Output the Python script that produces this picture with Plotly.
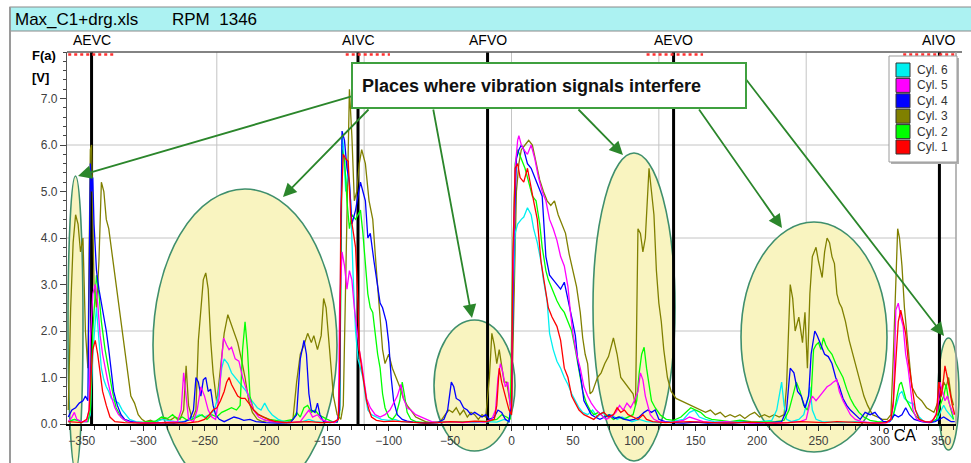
import plotly.graph_objects as go

# ---------------- data ----------------
cyl3_deg = [-361,-359,-357,-355,-353,-351,-349,-347,-345,-343,-342,-340,-338,-336,-334,-332,-330,-328,-325,-322,-319,-316,-313,-310,-307,-304,-301,-298,-294,-290,-286,-282,-278,-274,-270,-267,-265,-263,-260,-257,-255,-253,-251,-249,-247,-245,-243,-240,-238,-234,-231,-229,-226,-223,-220,-217,-214,-211,-207,-203,-198,-193,-188,-183,-178,-175,-172,-169,-166,-163,-161,-158,-155,-153,-151,-149,-147,-145,-142,-139,-137,-135,-133,-132,-130,-128,-126,-124,-122,-119,-116,-113,-110,-107,-105,-103,-100,-97,-94,-91,-88,-85,-82,-78,-74,-70,-66,-62,-58,-54,-51,-48,-45,-42,-39,-36,-33,-30,-27,-24,-21,-18,-16,-14,-12,-10,-8,-6,-4,-2,0,2,4,6,8,11,14,17,20,23,26,29,32,35,38,41,44,47,50,53,56,58,60,62,64,66,70,73,76,79,83,86,89,92,96,99,101,103,105,107,109,111,112,114,116,118,120,122,124,127,130,134,138,142,146,150,154,158,162,166,170,174,178,182,186,190,194,198,202,206,210,214,218,222,224,226,227,229,231,234,237,239,241,243,245,248,250,253,255,257,259,261,263,265,267,269,272,275,278,281,284,287,290,294,298,302,306,309,311,313,314.5,316,318,320,323,326,330,334,338,341,344,347,350,352,354,356,358,360]
cyl3_val = [0.3,2.5,3.9,4.5,4.3,3.7,4.0,2.0,1.2,5.9,6.0,3.0,2.5,3.5,5.2,5.0,4.4,4.2,3.6,3.0,2.3,1.7,1.1,0.6,0.45,0.2,0.1,0.05,0.08,0.03,0.1,0.12,0.08,0.15,0.1,0.3,1.25,0.4,0.1,0.3,1.8,2.5,3.1,3.25,2.9,1.8,1.1,0.45,0.95,1.95,2.35,2.2,2.0,1.75,1.4,1.0,0.5,0.25,0.1,0.05,0.08,0.04,0.06,0.03,0.1,0.9,1.5,1.7,1.95,1.75,1.9,1.6,1.9,2.7,2.5,1.8,1.2,0.6,0.2,0.1,0.4,3.2,6.5,7.2,6.2,4.8,5.0,5.6,5.9,5.6,4.8,4.4,3.3,2.2,1.6,1.3,1.5,1.2,1.0,0.8,0.55,0.4,0.3,0.15,0.1,0.05,0.03,0.04,0.05,0.2,0.3,0.25,0.35,0.2,0.3,0.15,0.25,0.2,0.1,0.2,0.15,1.0,1.95,1.7,1.3,1.6,1.2,0.9,0.9,0.6,0.2,2.5,5.0,5.6,5.9,6.0,6.1,6.0,5.6,5.25,5.0,4.8,4.7,4.8,4.5,4.3,4.1,3.65,3.3,2.95,2.4,1.85,1.5,1.3,0.65,0.7,1.0,1.1,1.3,1.45,1.85,1.5,1.0,0.9,0.75,0.65,0.4,4.2,4.1,3.7,4.0,5.0,5.5,5.0,4.5,3.3,2.6,2.2,1.6,1.0,0.7,0.55,0.5,0.45,0.4,0.35,0.3,0.25,0.3,0.2,0.25,0.15,0.2,0.15,0.2,0.12,0.2,0.25,0.15,0.2,0.15,0.2,0.15,0.2,0.8,2.2,3.0,2.7,2.0,2.3,1.75,2.4,1.2,2.8,3.6,3.8,3.5,3.15,3.7,4.0,3.9,3.6,3.45,2.8,2.6,2.5,2.2,1.8,1.5,1.2,0.9,0.6,0.4,0.2,0.15,0.1,0.1,0.2,1.5,3.2,4.2,4.0,3.4,2.5,1.6,0.8,0.6,0.5,0.35,0.3,0.25,0.45,0.6,0.9,0.8,1.0,0.6,0.4]

cyl4_deg = [-361,-358,-355,-352,-349,-347,-345,-344,-343,-342,-341,-340,-338,-336,-334,-332,-330,-328,-326,-324,-321,-318,-315,-311,-305,-295,-285,-275,-266,-262,-259,-257,-255,-253,-251,-249,-247,-245,-243,-241,-238,-234,-230,-226,-222,-218,-213,-208,-200,-190,-180,-175,-172,-169,-167,-165,-163,-160,-158,-156,-153,-148,-142,-140,-139,-138,-136,-134,-132,-130,-127,-125,-123,-121,-119,-117,-115,-112,-109,-107,-105,-102,-100,-98,-96,-93,-89,-85,-80,-70,-60,-55,-52,-49,-47,-45,-42,-39,-36,-33,-30,-27,-24,-21,-18,-14,-11,-8,-5,-2,0,2,4,6,8,10,13,16,19,22,25,28,31,34,37,40,43,46,49,52,54,57,59,62,65,68,72,76,80,84,88,92,96,100,104,108,111,114,117,120,125,130,140,150,160,170,180,190,200,210,220,224,227,230,233,236,239,242,244,247,249,252,255,258,261,264,267,270,273,276,280,284,288,292,296,299,303,308,312,315,318,321,324,328,334,340,345,349,352,355,358,361]
cyl4_val = [0.15,0.3,0.35,0.45,0.5,0.6,0.5,2.5,5.6,5.0,5.3,4.3,3.3,2.9,2.6,2.3,2.0,1.6,1.1,0.7,0.4,0.2,0.1,0.06,0.03,0.02,0.03,0.02,0.05,0.1,0.3,1.0,0.9,0.6,0.95,1.0,0.7,0.75,0.4,0.2,0.1,0.05,0.1,0.15,0.12,0.08,0.1,0.05,0.03,0.02,0.03,0.2,1.4,1.8,1.5,0.65,0.3,0.25,0.45,0.2,0.05,0.03,0.05,0.3,4.0,6.3,6.1,5.5,5.2,4.3,4.6,4.9,5.2,5.0,4.8,4.0,4.1,3.5,3.0,2.6,2.5,2.2,1.75,1.0,0.5,0.2,0.1,0.06,0.04,0.02,0.03,0.1,0.3,0.9,0.8,0.55,0.5,0.35,0.3,0.2,0.25,0.2,0.15,0.2,0.1,0.15,0.3,0.25,0.1,0.05,0.5,4.0,5.7,5.9,6.0,5.9,5.6,5.5,5.3,5.1,4.9,3.6,3.2,3.1,3.0,2.9,3.05,2.7,2.3,1.9,1.35,0.9,0.5,0.35,0.2,0.15,0.1,0.15,0.2,0.12,0.15,0.1,0.08,0.1,0.15,0.25,0.3,0.25,0.3,0.1,0.05,0.03,0.02,0.04,0.02,0.03,0.02,0.04,0.02,0.03,0.05,0.3,1.2,1.1,0.7,0.6,0.35,0.6,1.5,2.0,1.9,1.7,1.5,1.45,1.3,1.0,0.8,0.55,0.4,0.3,0.2,0.1,0.25,0.2,0.25,0.15,0.05,0.05,0.2,0.15,0.2,0.35,0.2,0.1,0.05,0.03,0.05,0.1,0.15,0.1,0.05,0.05]

cyl5_deg = [-361,-358,-356,-354,-350,-346,-344,-343,-341,-339,-337,-335,-333,-331,-329,-326,-323,-320,-316,-311,-300,-290,-280,-272,-269,-267,-265,-263,-259,-256,-253,-250,-247,-244,-241,-238,-236,-234.5,-232,-230,-228,-225,-222,-219,-216,-213,-210,-206,-202,-196,-188,-180,-172,-168,-165,-162,-158,-155,-150,-144,-141,-140,-138,-136,-134,-132,-130,-128,-126,-124,-122,-120,-118,-115,-111,-107,-103,-99,-96,-93,-90,-88,-85,-82,-78,-74,-70,-65,-58,-50,-40,-30,-22,-16,-13,-11,-9,-7,-5,-3,-1,0,1,3,5,6,8,10,13,16,19,22,25,28,31,34,37,40,43,46,48,50,53,56,59,62,65,69,73,77,81,85,88,91,94,97,100,103,105,107,109,111,113,116,120,130,140,145,150,156,165,175,185,195,205,215,225,235,240,243,245,248,251,254,257,260,262,265,267,270,273,276,280,285,292,300,306,309,311,313,315,317,319,321,323,325,327,330,335,340,344,347,349,351,353,355,357,360]
cyl5_val = [0.05,0.15,0.25,0.1,0.05,0.05,0.3,1.8,2.8,3.0,2.6,1.9,1.5,1.2,0.95,0.6,0.35,0.2,0.1,0.04,0.03,0.02,0.04,0.05,0.3,1.1,0.6,0.1,0.05,0.3,0.8,0.6,0.3,0.15,0.1,0.6,1.4,1.85,1.7,1.6,1.65,1.4,1.35,1.0,0.75,0.5,0.3,0.15,0.1,0.05,0.04,0.03,0.05,0.2,0.3,0.15,0.2,0.1,0.05,0.03,0.1,2.5,3.7,3.4,2.9,3.3,3.1,2.5,2.0,1.6,1.3,0.9,0.55,0.35,0.2,0.15,0.2,0.3,0.45,0.6,0.85,0.55,0.35,0.3,0.2,0.15,0.1,0.05,0.03,0.05,0.03,0.05,0.04,0.1,0.3,1.0,1.3,1.1,0.8,0.9,0.4,0.3,3.0,5.5,6.1,6.2,6.0,5.9,5.8,6.0,5.7,5.3,5.0,4.8,4.4,4.2,3.95,3.6,3.4,2.95,2.4,1.95,1.5,1.2,0.8,0.6,0.45,0.3,0.2,0.1,0.15,0.25,0.4,0.3,0.45,0.35,0.5,0.7,1.1,0.95,0.6,0.4,0.2,0.1,0.05,0.03,0.08,0.15,0.1,0.05,0.03,0.05,0.03,0.02,0.03,0.02,0.03,0.05,0.1,0.45,0.6,0.5,0.6,0.7,0.8,0.85,0.9,0.95,0.7,0.5,0.35,0.2,0.1,0.05,0.03,0.02,0.03,0.1,0.4,2.45,2.6,2.3,2.1,1.5,1.2,0.7,0.3,0.1,0.05,0.04,0.1,0.3,0.9,0.7,0.5,0.6,0.4,0.2]

cyl2_deg = [-361,-356,-350,-345,-343,-341,-339,-338,-336,-334,-331,-328,-325,-322,-318,-314,-308,-300,-290,-285,-280,-276,-272,-268,-264,-260,-256,-252,-248,-244,-240,-236,-232,-228,-224,-221,-219,-217,-215,-213,-210,-206,-202,-197,-192,-187,-182,-178,-175,-172,-169,-166,-163,-160,-157,-154,-150,-146,-142,-140,-139,-138,-136,-134,-132,-130,-127,-125,-123,-121,-119,-117,-115,-113,-111,-109,-107,-105,-103,-100,-97,-94,-91,-89,-87,-85,-82,-78,-70,-60,-50,-40,-30,-20,-12,-8,-4,-1,1,3,5,8,11,14,17,20,23,25,28,30,33,37,40,43,46,49,52,55,58,61,64,67,71,75,79,83,87,91,95,99,102,104,106,108,110,112,114,117,121,126,132,138,142,146,150,154,158,163,170,178,186,195,205,215,222,226,229,232,235,238,241,244,246,248,250,252,254,256,258,261,264,267,270,273,276,279,283,287,292,298,305,310,312,314,316,317.5,319,321,323,326,330,335,341,346,349,352,354,356,358,360]
cyl2_val = [0.05,0.1,0.05,0.05,0.3,2.0,2.8,3.2,2.8,2.2,1.6,1.1,0.7,0.35,0.15,0.06,0.03,0.04,0.06,0.15,0.12,0.2,0.1,0.15,0.08,0.1,0.15,0.2,0.1,0.2,0.15,0.25,0.3,0.35,0.3,0.4,1.6,2.2,1.6,0.6,0.3,0.2,0.15,0.1,0.08,0.05,0.08,0.1,0.25,0.15,0.35,0.4,0.25,0.3,0.2,0.15,0.1,0.05,0.04,0.2,3.5,5.9,5.7,4.8,4.2,4.5,4.4,4.5,4.6,4.1,3.5,2.8,2.5,2.4,1.95,1.5,1.2,0.65,0.35,0.15,0.1,0.2,0.5,0.9,0.6,0.25,0.1,0.05,0.03,0.04,0.05,0.04,0.05,0.06,0.1,0.2,0.15,0.1,3.5,5.6,5.9,5.7,5.5,5.2,4.9,4.8,4.3,3.8,3.3,3.1,2.9,2.65,2.5,2.4,2.2,2.0,1.6,1.1,0.7,0.45,0.3,0.2,0.25,0.15,0.2,0.1,0.15,0.1,0.15,0.2,0.5,1.1,1.5,1.65,1.2,0.8,0.5,0.35,0.2,0.1,0.08,0.15,0.25,0.35,0.3,0.25,0.15,0.1,0.08,0.05,0.08,0.05,0.04,0.05,0.08,0.3,0.6,0.9,0.7,0.4,0.3,0.6,1.6,1.7,1.75,1.6,1.85,1.7,1.6,1.5,1.3,1.15,1.0,0.75,0.55,0.4,0.25,0.15,0.08,0.05,0.04,0.1,0.3,0.6,0.85,0.9,0.75,0.55,0.45,0.3,0.15,0.05,0.03,0.1,0.4,0.6,0.85,0.5,0.3,0.1]

cyl6_deg = [-361,-356,-350,-345,-343,-341,-339,-338,-336,-334,-332,-330,-328,-326,-323,-320,-317,-314,-311,-306,-298,-290,-284,-280,-274,-268,-262,-258,-254,-250,-246,-242,-239,-236,-234,-231,-228,-225,-222,-219,-216,-213,-210,-207,-204,-201,-198,-195,-190,-185,-178,-170,-165,-160,-150,-142,-140,-139,-138,-137,-135,-133,-131,-129,-127,-125,-123,-121,-119,-117,-114,-110,-106,-100,-95,-90,-80,-70,-60,-50,-40,-30,-20,-12,-6,-2,0,1,3,5,8,10,13,16,18,21,24,26,29,31,34,37,40,43,46,49,52,55,58,62,66,70,74,78,82,86,90,94,98,104,110,120,130,140,145,149,153,158,165,175,185,195,205,212,216,218,220,222,224,228,234,238,241,243,245,248,253,260,270,280,290,300,308,311,314,316,318,320,322,325,327,329,332,336,342,347,350,352,354,357,360]
cyl6_val = [0.05,0.1,0.05,0.05,0.2,1.5,2.2,2.5,1.8,1.2,0.95,0.8,0.7,0.55,0.5,0.45,0.3,0.2,0.1,0.05,0.03,0.05,0.1,0.08,0.05,0.04,0.1,0.15,0.2,0.15,0.2,0.3,0.6,1.2,1.4,1.3,1.1,1.0,0.9,0.8,0.7,0.55,0.45,0.35,0.3,0.45,0.3,0.2,0.1,0.05,0.03,0.05,0.1,0.05,0.03,0.04,0.3,4.0,6.2,6.0,5.0,5.5,4.8,3.2,2.0,1.4,1.2,1.0,0.6,0.3,0.2,0.15,0.1,0.08,0.1,0.05,0.03,0.02,0.03,0.05,0.04,0.03,0.05,0.04,0.1,0.05,0.3,2.5,4.1,4.3,4.4,4.45,4.65,4.5,4.2,3.9,3.5,3.1,2.65,1.95,1.6,1.35,1.2,1.0,0.85,0.65,0.5,0.35,0.25,0.2,0.3,0.15,0.25,0.15,0.2,0.1,0.15,0.1,0.05,0.1,0.05,0.03,0.05,0.1,0.25,0.3,0.15,0.1,0.05,0.04,0.05,0.03,0.05,0.08,0.3,0.6,0.9,0.4,0.1,0.05,0.1,0.2,0.5,0.8,0.3,0.1,0.05,0.04,0.03,0.05,0.03,0.04,0.05,0.2,0.5,0.65,0.7,0.55,0.5,0.45,0.45,0.3,0.15,0.05,0.03,0.1,0.3,0.4,0.3,0.2,0.1]

cyl1_deg = [-361,-350,-346,-344,-342,-341,-339,-337,-335,-333,-330,-327,-323,-315,-300,-280,-265,-255,-250,-246,-243,-240,-237,-234,-232,-230,-228,-226,-223,-220,-217,-214,-210,-206,-202,-198,-192,-185,-175,-165,-155,-145,-141,-140,-139,-137,-135,-133,-131,-129,-127,-125,-124,-122,-120,-118,-116,-114,-110,-104,-96,-88,-80,-70,-60,-50,-40,-30,-20,-14,-12,-10,-8,-6,-4,-2,0,1,3,5,7,10,13,15,18,21,24,27,30,33,37,40,43,46,49,52,55,59,63,67,71,75,79,83,86,89,92,95,99,103,107,110,115,125,135,145,155,165,175,185,195,205,215,225,235,245,255,265,275,285,295,305,309,311,313,315,317,319,321,323,325,327,329,332,337,342,346,348,350,352,353,355,357,359,361]
cyl1_val = [0.05,0.03,0.1,0.3,1.2,1.6,1.8,1.5,1.1,0.7,0.4,0.15,0.05,0.03,0.02,0.03,0.02,0.05,0.1,0.2,0.3,0.35,0.5,0.7,0.9,1.0,0.85,0.75,0.6,0.55,0.55,0.45,0.3,0.2,0.15,0.1,0.05,0.03,0.04,0.05,0.03,0.04,0.1,1.0,4.5,5.8,5.7,5.65,4.5,4.1,3.8,2.6,1.6,1.2,0.8,0.5,0.3,0.15,0.08,0.05,0.06,0.05,0.03,0.02,0.03,0.05,0.04,0.06,0.05,0.1,0.4,1.2,0.9,0.7,0.5,0.3,0.2,3.5,5.5,5.6,5.3,5.2,5.5,5.2,4.8,4.4,3.5,3.0,2.5,2.3,2.1,1.8,1.2,1.0,0.6,0.45,0.3,0.2,0.15,0.1,0.2,0.25,0.15,0.2,0.35,0.25,0.3,0.2,0.15,0.1,0.2,0.1,0.05,0.03,0.04,0.05,0.04,0.03,0.02,0.03,0.04,0.03,0.02,0.03,0.05,0.04,0.03,0.05,0.04,0.03,0.02,0.03,0.1,0.5,1.5,2.2,2.45,2.2,1.95,1.4,1.0,0.6,0.3,0.1,0.05,0.04,0.2,0.9,0.6,1.0,1.25,1.0,0.7,0.4,0.2]

series_names = ["Cyl. 6", "Cyl. 5", "Cyl. 4", "Cyl. 3", "Cyl. 2", "Cyl. 1"]
valve_names = ["AEVC", "AIVC", "AFVO", "AEVO", "AIVO"]
valve_deg = [-342, -125, -19.5, 132, 348.5]
timing_band_start = [-361, -135, 110, 319]
timing_band_end = [-322, -99, 156, 361]
y_tick_vals = [0, 1, 2, 3, 4, 5, 6, 7]
y_grid_vals = [2, 4, 6]
x_grid_vals = [-240, -120, 0, 120, 240]
x_range = [-362, 362]
y_range = [0, 8]
title_file = "Max_C1+drg.xls"
title_rpm = "RPM&nbsp;&nbsp;1346"
note_text = "Places where vibration signals interfere"

# ---------------- styling ----------------
colors = {"Cyl. 6": "#00F0F0", "Cyl. 5": "#FF00FF", "Cyl. 4": "#0000FF",
          "Cyl. 3": "#808000", "Cyl. 2": "#00FF00", "Cyl. 1": "#FF0000"}
series = {"Cyl. 6": (cyl6_deg, cyl6_val), "Cyl. 5": (cyl5_deg, cyl5_val),
          "Cyl. 4": (cyl4_deg, cyl4_val), "Cyl. 3": (cyl3_deg, cyl3_val),
          "Cyl. 2": (cyl2_deg, cyl2_val), "Cyl. 1": (cyl1_deg, cyl1_val)}
FONT = "Liberation Sans, Arial, sans-serif"
NARROW = "Liberation Sans Narrow, Liberation Sans, Arial"
W, H = 971, 463
L, R, T, B = 67, 15, 52, 39
PW, PH = W - L - R, H - T - B


def px(x):   # pixel x -> paper x
    return (x - L) / PW


def py(y):   # pixel y -> paper y
    return (H - B - y) / PH


fig = go.Figure()

# valve event lines
for d in valve_deg:
    fig.add_trace(go.Scatter(x=[d, d], y=y_range, mode="lines",
                             line=dict(color="black", width=3),
                             showlegend=False, hoverinfo="skip"))

# cylinder traces
for name in ["Cyl. 3", "Cyl. 6", "Cyl. 2", "Cyl. 4", "Cyl. 5", "Cyl. 1"]:
    xs, ys = series[name]
    fig.add_trace(go.Scatter(x=xs, y=ys, mode="lines", name=name,
                             line=dict(color=colors[name], width=1.3),
                             showlegend=False))

shapes = []
# grid lines (paper based so the ellipses can cover them)
for v in y_grid_vals:
    yp = (v - y_range[0]) / (y_range[1] - y_range[0])
    shapes.append(dict(type="line", xref="paper", yref="paper", x0=0, x1=1, y0=yp, y1=yp,
                       line=dict(color="#c4c4c4", width=1), layer="below"))
for v in x_grid_vals:
    xp = (v - x_range[0]) / (x_range[1] - x_range[0])
    shapes.append(dict(type="line", xref="paper", yref="paper", x0=xp, x1=xp, y0=0, y1=1,
                       line=dict(color="#c4c4c4", width=1), layer="below"))

# highlighted ellipses (pixel boxes of the picture)
ellipses = [(68, 176, 83, 470), (153, 189, 337, 501), (434, 320, 515, 451),
            (593, 153, 675, 461), (741, 222, 887, 452), (938, 338, 959, 450)]
for x0, y0, x1, y1 in ellipses:
    shapes.append(dict(type="circle", xref="paper", yref="paper",
                       x0=px(x0), x1=px(x1), y0=py(y1), y1=py(y0),
                       fillcolor="#f9f4c0", line=dict(color="#3f8f6c", width=1.6),
                       layer="below"))

# frame / title bar
shapes.append(dict(type="rect", xref="paper", yref="paper", x0=px(10), x1=px(975),
                   y0=py(31), y1=py(7), fillcolor="#acf2f2",
                   line=dict(color="#8a8a8a", width=1.2), layer="above"))
shapes.append(dict(type="line", xref="paper", yref="paper", x0=px(10), x1=px(10),
                   y0=py(463), y1=py(7), line=dict(color="#9a9a9a", width=2), layer="above"))
shapes.append(dict(type="line", xref="paper", yref="paper", x0=0, x1=px(962),
                   y0=1, y1=1, line=dict(color="#5a5a5a", width=1.5), layer="above"))
shapes.append(dict(type="line", xref="paper", yref="paper", x0=1, x1=1,
                   y0=0, y1=1, line=dict(color="#a0a0a0", width=1.5), layer="above"))
# red dotted timing bands at top
for a, b in zip(timing_band_start, timing_band_end):
    shapes.append(dict(type="line", xref="x", yref="paper", x0=a, x1=b, y0=0.993, y1=0.993,
                       line=dict(color="#ff3030", width=2.5, dash="dot"), layer="above"))

annotations = []

# manual legend (box, swatches, names)
LEG_X0, LEG_X1, LEG_Y0, LEG_Y1 = 889, 957, 56, 162
shapes.append(dict(type="rect", xref="paper", yref="paper", x0=px(LEG_X0 + 2), x1=px(LEG_X1 + 2),
                   y0=py(LEG_Y1 + 2), y1=py(LEG_Y0 + 2), fillcolor="#b0b0b0",
                   line=dict(width=0), layer="above"))
shapes.append(dict(type="rect", xref="paper", yref="paper", x0=px(LEG_X0), x1=px(LEG_X1),
                   y0=py(LEG_Y1), y1=py(LEG_Y0), fillcolor="white",
                   line=dict(color="#9a9a9a", width=1), layer="above"))
for i, name in enumerate(series_names):
    cy = 70 + 15.4 * i
    shapes.append(dict(type="rect", xref="paper", yref="paper", x0=px(896), x1=px(910),
                       y0=py(cy + 7), y1=py(cy - 7), fillcolor=colors[name],
                       line=dict(color="#333333", width=1), layer="above"))
    annotations.append(dict(x=px(915), y=py(cy), xref="paper", yref="paper", text=name,
                            showarrow=False, xanchor="left", yanchor="middle",
                            font=dict(family=NARROW, size=12, color="#333333")))

# valve labels
for n, d in zip(valve_names, valve_deg):
    annotations.append(dict(x=d, y=py(40), xref="x", yref="paper", text=n, showarrow=False,
                            xanchor="center", yanchor="middle",
                            font=dict(family=FONT, size=14, color="black")))
# axis labels and title
annotations += [
    dict(x=px(30), y=py(46), xref="paper", yref="paper", text="<b>F(a)</b>", showarrow=False,
         font=dict(family=FONT, size=13, color="black")),
    dict(x=px(30), y=py(68), xref="paper", yref="paper", text="<b>[V]</b>", showarrow=False,
         font=dict(family=FONT, size=13, color="black")),
    dict(x=px(917), y=py(445), xref="paper", yref="paper", text="<sup>o</sup> CA",
         showarrow=False, borderpad=0, font=dict(family=FONT, size=16, color="black")),
    dict(x=px(13), y=py(19), xref="paper", yref="paper", text=title_file, showarrow=False,
         xanchor="left", yanchor="middle", font=dict(family=FONT, size=17, color="black")),
    dict(x=px(170), y=py(19), xref="paper", yref="paper", text=title_rpm, showarrow=False,
         xanchor="left", yanchor="middle", font=dict(family=FONT, size=17, color="black")),
]
# arrows: (head_x, head_y, tail_x, tail_y) in pixels
arrows = [(78, 176, 353, 96), (283, 197, 370, 108), (472, 318, 433, 108),
          (623, 155, 577, 108), (782, 228, 698, 108), (944, 336, 745, 78)]
for hx, hy, tx, ty in arrows:
    annotations.append(dict(x=px(hx), y=py(hy), xref="paper", yref="paper", text="",
                            showarrow=True, ax=tx - hx, ay=ty - hy, arrowhead=2,
                            arrowsize=1.5, arrowwidth=1.8, arrowcolor="#2b862b", standoff=0))
# note box
annotations.append(dict(x=px(549), y=py(85.5), xref="paper", yref="paper",
                        text="<b>" + note_text + "</b>", showarrow=False,
                        xanchor="center", yanchor="middle", align="left",
                        width=374, height=25, borderpad=9, borderwidth=2,
                        bordercolor="#3fa03f", bgcolor="white",
                        font=dict(family=FONT, size=18, color="#111111")))

fig.update_layout(
    width=W, height=H, margin=dict(l=L, r=R, t=T, b=B),
    paper_bgcolor="white", plot_bgcolor="rgba(0,0,0,0)",
    font=dict(family=FONT, size=12, color="#404040"),
    shapes=shapes, annotations=annotations,
    showlegend=False,
    xaxis=dict(range=x_range, showgrid=False, zeroline=False, dtick=50, tick0=0,
               ticks="outside", ticklen=5, tickcolor="#333333", showline=True,
               linecolor="black", linewidth=1.5,
               tickfont=dict(family=FONT, size=12, color="#404040"),
               minor=dict(dtick=10, tick0=0, ticks="outside", ticklen=4, tickcolor="#333333")),
    yaxis=dict(range=y_range, showgrid=False, zeroline=False, tickmode="array",
               tickvals=y_tick_vals, ticktext=[f"{v:.1f}" for v in y_tick_vals],
               ticks="outside", ticklen=6, tickcolor="#444444", showline=True,
               linecolor="#555555", linewidth=1.2,
               tickfont=dict(family=FONT, size=12, color="#404040"),
               minor=dict(tickmode="linear", tick0=0, dtick=0.2, ticks="outside", ticklen=3,
                          tickcolor="#444444")),
)

fig.write_html("out.html", config={"displayModeBar": False},
               post_script="document.body.style.margin='0px';")
